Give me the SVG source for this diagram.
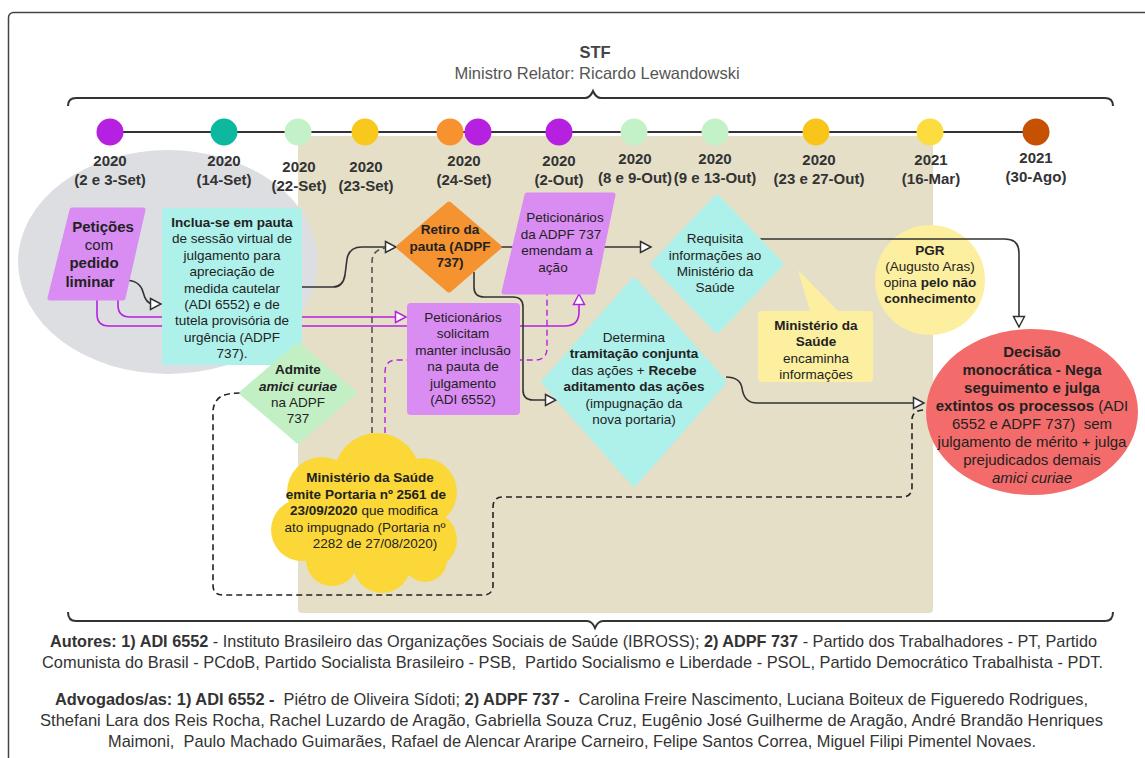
<svg xmlns="http://www.w3.org/2000/svg" width="1145" height="758" viewBox="0 0 1145 758">
<style>
text{font-family:"Liberation Sans",Arial,sans-serif;fill:#222}
.n{font-size:13.5px;text-anchor:middle}
.b{font-weight:bold}
.i{font-style:italic}
.d{font-size:15px;font-weight:bold;text-anchor:middle;fill:#333}
.ft{font-size:16.2px;text-anchor:middle;fill:#333}
.c{fill:none;stroke:#333;stroke-width:1.6}
.p{fill:none;stroke:#b620e0;stroke-width:1.6}
.dg{fill:none;stroke:#555;stroke-width:1.6;stroke-dasharray:6 4}
.dp{fill:none;stroke:#b620e0;stroke-width:1.4;stroke-dasharray:6 4}
.dk{fill:none;stroke:#222;stroke-width:1.6;stroke-dasharray:6 4}
</style>
<defs>
<marker id="ah" markerUnits="userSpaceOnUse" markerWidth="14" markerHeight="14" viewBox="0 0 14 14" refX="12" refY="7" orient="auto">
<path d="M1.5,1.5 L12,7 L1.5,12.5 z" fill="#fff" stroke="#333" stroke-width="1.5"/>
</marker>
<marker id="ap" markerUnits="userSpaceOnUse" markerWidth="14" markerHeight="14" viewBox="0 0 14 14" refX="12" refY="7" orient="auto">
<path d="M1.5,1.5 L12,7 L1.5,12.5 z" fill="#fff" stroke="#b620e0" stroke-width="1.5"/>
</marker>
</defs>
<rect x="0" y="0" width="1145" height="758" fill="#fff"/>
<rect x="8.5" y="12.5" width="1160" height="780" rx="5" fill="none" stroke="#444" stroke-width="1.5"/>

<g id="header">
<text x="595" y="58" style="font-size:16.5px;font-weight:bold;text-anchor:middle;fill:#444">STF</text>
<text x="597" y="79" style="font-size:16.5px;text-anchor:middle;fill:#555">Ministro Relator: Ricardo Lewandowski</text>
<path d="M68,106 Q68,98 76,98 H585 Q590,98 593,91 Q596,98 601,98 H1105 Q1113,98 1113,106" fill="none" stroke="#333" stroke-width="2"/>
</g>

<rect id="bg" x="298" y="136" width="635" height="477" rx="4" fill="#e5dfc8"/>
<ellipse id="bg-ellipse" cx="168" cy="262" rx="150" ry="112" fill="#dcdee2"/>

<g id="timeline">
<line x1="110" y1="132" x2="1036" y2="132" stroke="#333" stroke-width="2"/>
<circle cx="110" cy="132" r="13.5" fill="#b620e0"/>
<circle cx="224" cy="132" r="13.5" fill="#0cb89e"/>
<circle cx="298" cy="132" r="13.5" fill="#c3f2c9"/>
<circle cx="365" cy="132" r="13.5" fill="#f9c81c"/>
<circle cx="450" cy="132" r="13.5" fill="#f7922e"/>
<circle cx="478" cy="132" r="13.5" fill="#b620e0"/>
<circle cx="559" cy="132" r="13.5" fill="#b620e0"/>
<circle cx="634" cy="132" r="13.5" fill="#c3f2c9"/>
<circle cx="715" cy="132" r="13.5" fill="#c3f2c9"/>
<circle cx="816" cy="132" r="13.5" fill="#f9c51a"/>
<circle cx="930" cy="132" r="13.5" fill="#fddc3f"/>
<circle cx="1036" cy="132" r="13.5" fill="#c65100"/>
<text class="d" x="110" y="166">2020</text><text class="d" x="110" y="185">(2 e 3-Set)</text>
<text class="d" x="224" y="166">2020</text><text class="d" x="224" y="185">(14-Set)</text>
<text class="d" x="299" y="172">2020</text><text class="d" x="299" y="191">(22-Set)</text>
<text class="d" x="366" y="172">2020</text><text class="d" x="366" y="191">(23-Set)</text>
<text class="d" x="464" y="166">2020</text><text class="d" x="464" y="185">(24-Set)</text>
<text class="d" x="559" y="166">2020</text><text class="d" x="559" y="185">(2-Out)</text>
<text class="d" x="635" y="164">2020</text><text class="d" x="635" y="183">(8 e 9-Out)</text>
<text class="d" x="715" y="164">2020</text><text class="d" x="715" y="183">(9 e 13-Out)</text>
<text class="d" x="819" y="165">2020</text><text class="d" x="819" y="184">(23 e 27-Out)</text>
<text class="d" x="931" y="165">2021</text><text class="d" x="931" y="184">(16-Mar)</text>
<text class="d" x="1036" y="163">2021</text><text class="d" x="1036" y="182">(30-Ago)</text>
</g>

<g id="pgr">
<circle cx="930" cy="280" r="55" fill="#fcef9f"/>
<text class="n" x="930" y="255"><tspan class="b">PGR</tspan></text>
<text class="n" x="930" y="271">(Augusto Aras)</text>
<text class="n" x="930" y="287">opina <tspan class="b">pelo não</tspan></text>
<text class="n" x="930" y="303"><tspan class="b">conhecimento</tspan></text>
</g>

<g id="connectors">
<path class="c" d="M124,280 Q140,280 143,292 Q146,304 153,304 H161" marker-end="url(#ah)"/>
<path class="p" d="M118,298 V305 Q118,317 130,317 H406" marker-end="url(#ap)"/>
<path class="p" d="M97,298 V314 Q97,326 109,326 H565 Q579,326 579,312 V294" marker-end="url(#ap)"/>
<path class="c" d="M302,287 H333 Q343,287 345,275 L347,259 Q349,247 362,247 H396" marker-end="url(#ah)"/>
<path class="dg" d="M372,433 V262 Q372,250 385,248"/>
<path class="c" d="M500,247 H651" marker-end="url(#ah)"/>
<path class="c" d="M474,272 V287 Q474,297 484,297 H513 Q523,297 523,307 V390 Q523,400 533,400 H556" marker-end="url(#ah)"/>
<path class="c" d="M760,239 H1005 Q1019,239 1019,253 V327" marker-end="url(#ah)"/>
<path class="c" d="M726,377 Q740,377 742,388 Q744,403 757,403 H924" marker-end="url(#ah)"/>
<path class="dp" d="M385,433 V372 Q385,360 397,360 H535 Q547,360 547,348 V292"/>
<path class="dk" d="M240,393 Q222,393 217,400 Q213,405 213,412 V585 Q213,595 223,595 H483 Q493,595 493,585 V507 Q493,497 503,497 H902 Q912,497 912,487 V420 Q912,410 925,410"/>
</g>

<g id="peticoes">
<path d="M72,210 L143,210 L123,298 L50,298 Z" fill="#d98cf2" stroke="#d98cf2" stroke-width="5" stroke-linejoin="round"/>
<text x="103" y="232" style="font-size:15px;font-weight:bold;text-anchor:middle">Petições</text>
<text x="99" y="250" style="font-size:15px;text-anchor:middle">com</text>
<text x="94" y="268" style="font-size:15px;font-weight:bold;text-anchor:middle">pedido</text>
<text x="90" y="287" style="font-size:15px;font-weight:bold;text-anchor:middle">liminar</text>
</g>

<g id="inclua">
<rect x="162" y="208" width="140" height="157" rx="3" fill="#aef0ea"/>
<text class="n" x="232" y="227"><tspan class="b">Inclua-se em pauta</tspan></text>
<text class="n" x="232" y="243.4">de sessão virtual de</text>
<text class="n" x="232" y="259.8">julgamento para</text>
<text class="n" x="232" y="276.2">apreciação de</text>
<text class="n" x="232" y="292.6">medida cautelar</text>
<text class="n" x="232" y="309">(ADI 6552) e de</text>
<text class="n" x="232" y="325.4">tutela provisória de</text>
<text class="n" x="232" y="341.8">urgência (ADPF</text>
<text class="n" x="232" y="358.2">737).</text>
</g>

<g id="retiro">
<path d="M449,204 L499,247 L449,290 L399,247 Z" fill="#f59331" stroke="#f59331" stroke-width="5" stroke-linejoin="round"/>
<text class="n b" x="450" y="234">Retiro da</text>
<text class="n b" x="450" y="251">pauta (ADPF</text>
<text class="n b" x="450" y="267">737)</text>
</g>

<g id="emendam">
<path d="M527,195 L613,195 L593,292 L504,292 Z" fill="#d98cf2" stroke="#d98cf2" stroke-width="5" stroke-linejoin="round"/>
<text class="n" x="565" y="222">Peticionários</text>
<text class="n" x="561" y="238.5">da ADPF 737</text>
<text class="n" x="557" y="255">emendam a</text>
<text class="n" x="553" y="271.5">ação</text>
</g>

<g id="requisita">
<path d="M717,197 L781,264 L717,331 L653,264 Z" fill="#aef0ea" stroke="#aef0ea" stroke-width="5" stroke-linejoin="round"/>
<text class="n" x="715" y="243">Requisita</text>
<text class="n" x="715" y="260">informações ao</text>
<text class="n" x="715" y="276">Ministério da</text>
<text class="n" x="715" y="292">Saúde</text>
</g>

<g id="solicitam">
<rect x="407" y="303" width="113" height="112" rx="4" fill="#d98cf2"/>
<text class="n" x="463" y="322">Peticionários</text>
<text class="n" x="463" y="338.4">solicitam</text>
<text class="n" x="463" y="354.8">manter inclusão</text>
<text class="n" x="463" y="371.2">na pauta de</text>
<text class="n" x="463" y="387.6">julgamento</text>
<text class="n" x="463" y="404">(ADI 6552)</text>
</g>

<g id="determina">
<path d="M634,280 L724,382 L634,484 L544,382 Z" fill="#aef0ea" stroke="#aef0ea" stroke-width="5" stroke-linejoin="round"/>
<text class="n" x="634" y="342">Determina</text>
<text class="n" x="634" y="358.4"><tspan class="b">tramitação conjunta</tspan></text>
<text class="n" x="634" y="374.8">das ações + <tspan class="b">Recebe</tspan></text>
<text class="n" x="634" y="391.2"><tspan class="b">aditamento das ações</tspan></text>
<text class="n" x="634" y="407.6">(impugnação da</text>
<text class="n" x="634" y="424">nova portaria)</text>
</g>

<g id="admite">
<path d="M298,345 L354,393 L298,441 L242,393 Z" fill="#c2efc4" stroke="#c2efc4" stroke-width="5" stroke-linejoin="round"/>
<text class="n b" x="298" y="374">Admite</text>
<text class="n b i" x="298" y="391">amici curiae</text>
<text class="n" x="298" y="407">na ADPF</text>
<text class="n" x="298" y="423">737</text>
</g>

<g id="portaria">
<g fill="#fbd837">
<circle cx="377" cy="476" r="43"/>
<circle cx="322" cy="492" r="35"/>
<circle cx="302" cy="530" r="31"/>
<circle cx="423" cy="492" r="34"/>
<circle cx="428" cy="540" r="29"/>
<circle cx="332" cy="560" r="26"/>
<circle cx="382" cy="564" r="29"/>
<circle cx="425" cy="560" r="22"/>
<ellipse cx="366" cy="522" rx="78" ry="50"/>
</g>
<text class="n b" x="370" y="482">Ministério da Saúde</text>
<text class="n b" x="366" y="498.5">emite Portaria nº 2561 de</text>
<text class="n" x="364" y="515"><tspan class="b">23/09/2020</tspan> que modifica</text>
<text class="n" x="365" y="531.5">ato impugnado (Portaria nº</text>
<text class="n" x="375" y="548">2282 de 27/08/2020)</text>
</g>

<g id="ms-informa">
<path d="M762,311 H810 L798,270 L838,311 H869 Q873,311 873,315 V378 Q873,382 869,382 H762 Q758,382 758,378 V315 Q758,311 762,311 Z" fill="#fcef9f"/>
<text class="n b" x="816" y="330">Ministério da</text>
<text class="n b" x="816" y="346.4">Saúde</text>
<text class="n" x="816" y="362.8">encaminha</text>
<text class="n" x="816" y="379.2">informações</text>
</g>

<g id="decisao">
<ellipse cx="1032" cy="412" rx="106" ry="83" fill="#f36c6b"/>
<text x="1032" y="356.5" style="font-size:15px;text-anchor:middle;font-weight:bold">Decisão</text>
<text x="1032" y="374.5" style="font-size:15px;text-anchor:middle;font-weight:bold">monocrática - Nega</text>
<text x="1032" y="392.5" style="font-size:15px;text-anchor:middle;font-weight:bold">seguimento e julga</text>
<text x="1032" y="410.5" style="font-size:15px;text-anchor:middle"><tspan font-weight="bold">extintos os processos</tspan> (ADI</text>
<text x="1032" y="428.5" style="font-size:15px;text-anchor:middle">6552 e ADPF 737)&#160; sem</text>
<text x="1032" y="446.5" style="font-size:15px;text-anchor:middle">julgamento de mérito + julga</text>
<text x="1032" y="464.5" style="font-size:15px;text-anchor:middle">prejudicados demais</text>
<text x="1032" y="482.5" style="font-size:15px;text-anchor:middle;font-style:italic">amici curiae</text>
</g>

<g id="footer">
<path d="M68,612 Q68,621 76,621 H587 Q592,621 595,628 Q598,621 603,621 H1105 Q1113,621 1113,612" fill="none" stroke="#333" stroke-width="2"/>
<text class="ft" x="573.5" y="646.5" textLength="1047" lengthAdjust="spacingAndGlyphs"><tspan font-weight="bold">Autores: 1) ADI 6552</tspan> - Instituto Brasileiro das Organizações Sociais de Saúde (IBROSS); <tspan font-weight="bold">2) ADPF 737</tspan> - Partido dos Trabalhadores - PT, Partido</text>
<text class="ft" x="572.5" y="668" textLength="1061" lengthAdjust="spacingAndGlyphs">Comunista do Brasil - PCdoB, Partido Socialista Brasileiro - PSB,&#160; Partido Socialismo e Liberdade - PSOL, Partido Democrático Trabalhista - PDT.</text>
<text class="ft" x="571.5" y="704.5" textLength="1033" lengthAdjust="spacingAndGlyphs"><tspan font-weight="bold">Advogados/as: 1) ADI 6552 -</tspan>&#160; Piétro de Oliveira Sídoti; <tspan font-weight="bold">2) ADPF 737 -</tspan>&#160; Carolina Freire Nascimento, Luciana Boiteux de Figueredo Rodrigues,</text>
<text class="ft" x="571.5" y="725.5" textLength="1063" lengthAdjust="spacingAndGlyphs">Sthefani Lara dos Reis Rocha, Rachel Luzardo de Aragão, Gabriella Souza Cruz, Eugênio José Guilherme de Aragão, André Brandão Henriques</text>
<text class="ft" x="572" y="746.5" textLength="928" lengthAdjust="spacingAndGlyphs">Maimoni,&#160; Paulo Machado Guimarães, Rafael de Alencar Araripe Carneiro, Felipe Santos Correa, Miguel Filipi Pimentel Novaes.</text>
</g>
</svg>
